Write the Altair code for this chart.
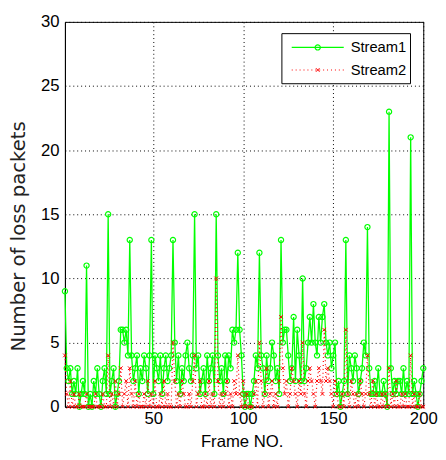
import altair as alt
import pandas as pd

frames = list(range(1, 201))

stream1 = [
    9, 3, 2, 3, 1, 2, 1, 3, 0, 1, 2, 1,
    11, 0, 1, 0, 2, 1, 3, 1, 0, 2, 3, 1,
    15, 1, 2, 3, 0, 1, 2, 6, 6, 5, 6, 4,
    13, 4, 2, 3, 4, 1, 3, 2, 4, 3, 1, 4,
    13, 1, 4, 3, 2, 4, 1, 3, 4, 2, 3, 4,
    13, 5, 2, 4, 1, 3, 2, 4, 5, 3, 2, 4,
    15, 3, 4, 1, 2, 3, 1, 4, 2, 3, 4, 1,
    15, 4, 2, 3, 1, 4, 2, 4, 3, 6, 5, 6,
    12, 6, 4, 1, 0, 1, 1, 0, 1, 2, 4, 3,
    12, 4, 3, 1, 4, 2, 3, 5, 4, 2, 3, 1,
    13, 5, 6, 6, 4, 2, 3, 7, 2, 6, 4, 2,
    10, 2, 3, 5, 7, 5, 8, 5, 4, 7, 5, 7,
    8, 5, 4, 5, 3, 4, 5, 1, 2, 0, 1, 2,
    13, 1, 4, 3, 2, 4, 3, 1, 2, 3, 5, 4,
    14, 3, 1, 1, 2, 1, 3, 1, 1, 2, 1, 0,
    23, 3, 1, 2, 1, 2, 2, 1, 3, 1, 2, 1,
    21, 1, 2, 1, 0, 1, 2, 3,
]

stream2 = [
    4, 1, 0, 2, 0, 1, 0, 0, 1, 0, 0, 0,
    1, 0, 0, 0, 0, 1, 0, 0, 0, 1, 0, 0,
    4, 0, 1, 0, 2, 0, 1, 3, 0, 1, 2, 0,
    3, 1, 0, 2, 0, 1, 0, 0, 1, 0, 2, 0,
    1, 0, 2, 0, 0, 1, 0, 2, 0, 1, 0, 0,
    5, 2, 0, 1, 0, 2, 1, 0, 0, 1, 0, 2,
    4, 0, 1, 2, 0, 0, 1, 0, 2, 0, 1, 0,
    10, 2, 0, 1, 0, 1, 2, 0, 1, 0, 2, 1,
    4, 1, 0, 2, 0, 1, 0, 0, 0, 1, 2, 0,
    5, 2, 0, 1, 3, 0, 1, 2, 0, 1, 0, 2,
    7, 3, 1, 2, 0, 1, 3, 2, 1, 0, 2, 1,
    5, 1, 0, 2, 3, 2, 1, 0, 2, 3, 2, 1,
    6, 2, 3, 2, 1, 0, 2, 1, 0, 0, 1, 0,
    6, 1, 0, 2, 1, 0, 1, 0, 2, 1, 0, 1,
    4, 1, 0, 2, 0, 1, 0, 0, 1, 0, 1, 0,
    3, 0, 1, 0, 2, 0, 0, 1, 0, 1, 0, 0,
    4, 0, 1, 0, 0, 1, 0, 0,
]

series_names = ["Stream1", "Stream2"]
x_ticks = [50, 100, 150, 200]
y_ticks = [0, 5, 10, 15, 20, 25, 30]

GREEN = "#00ff00"
RED = "#ff0000"
FONT = "Liberation Sans"
X_SHAPE = "M-1,-1L1,1M-1,1L1,-1"

df1 = pd.DataFrame({"frame": frames, "value": stream1})
df2 = pd.DataFrame({"frame": frames, "value": stream2})

xenc = alt.X(
    "frame:Q",
    scale=alt.Scale(domain=[1, 200], nice=False, zero=False),
    axis=alt.Axis(
        values=x_ticks, title="Frame NO.", grid=True, gridDash=[1, 3],
        gridColor="#000000", gridOpacity=1, domainColor="#000000",
        tickSize=0, labelPadding=4, labelFlush=False, labelFontSize=17,
        labelFont=FONT, labelColor="#000000", titleFont=FONT, titleFontSize=17,
        titleFontWeight="normal", titleColor="#000000", titleX=180, titleY=41,
        titleBaseline="alphabetic",
    ),
)
yenc = alt.Y(
    "value:Q",
    scale=alt.Scale(domain=[0, 30], nice=False),
    axis=alt.Axis(
        values=y_ticks, title="Number of loss packets", grid=True, gridDash=[1, 3],
        gridColor="#000000", gridOpacity=1, domainColor="#000000",
        tickSize=0, labelPadding=6, labelFontSize=17, labelFont=FONT,
        labelColor="#000000", titleFont="DejaVu Sans", titleFontSize=20,
        titleFontWeight="normal", titleColor="#222222", titleX=-41, titleY=218,
        titleAngle=270, titleBaseline="alphabetic", titleAlign="center",
    ),
)

s1_line = alt.Chart(df1).mark_line(color=GREEN, strokeWidth=1.3).encode(x=xenc, y=yenc)
s1_pts = alt.Chart(df1).mark_point(shape="circle", filled=False, color=GREEN,
                                    size=28, strokeWidth=1.2, opacity=1).encode(x=xenc, y=yenc)
s2_line = alt.Chart(df2).mark_line(color=RED, strokeWidth=1.2, strokeDash=[1, 3]).encode(x=xenc, y=yenc)
s2_pts = alt.Chart(df2).mark_point(shape=X_SHAPE, filled=False, color=RED,
                                    size=14, strokeWidth=1, opacity=1).encode(x=xenc, y=yenc)

one = pd.DataFrame({"k": [0]})
leg_box = alt.Chart(one).mark_rect(fill="white", stroke="black", strokeWidth=1).encode(
    x=alt.value(221), x2=alt.value(352), y=alt.value(12), y2=alt.value(63))
leg_l1 = alt.Chart(one).mark_rule(color=GREEN, strokeWidth=1.3).encode(
    x=alt.value(231), x2=alt.value(284), y=alt.value(26))
leg_p1 = alt.Chart(one).mark_point(shape="circle", filled=False, color=GREEN, size=28,
                                   strokeWidth=1.2, opacity=1).encode(x=alt.value(257.5), y=alt.value(26))
leg_l2 = alt.Chart(one).mark_rule(color=RED, strokeWidth=1.2, strokeDash=[1, 3]).encode(
    x=alt.value(231), x2=alt.value(284), y=alt.value(49))
leg_p2 = alt.Chart(one).mark_point(shape=X_SHAPE, filled=False, color=RED, size=14,
                                   strokeWidth=1, opacity=1).encode(x=alt.value(257.5), y=alt.value(49))
leg_t1 = alt.Chart(pd.DataFrame({"label": [series_names[0]]})).mark_text(
    align="left", baseline="middle", font=FONT, fontSize=15, color="black").encode(
    x=alt.value(291), y=alt.value(26), text="label:N")
leg_t2 = alt.Chart(pd.DataFrame({"label": [series_names[1]]})).mark_text(
    align="left", baseline="middle", font=FONT, fontSize=15, color="black").encode(
    x=alt.value(291), y=alt.value(49), text="label:N")

chart = alt.layer(
    s1_line, s1_pts, s2_line, s2_pts,
    leg_box, leg_l1, leg_p1, leg_l2, leg_p2, leg_t1, leg_t2,
).properties(
    width=365, height=392,
    padding={"left": 58, "top": 10, "right": 15, "bottom": 42},
    autosize=alt.AutoSizeParams(type="none"),
).configure_view(stroke="black", strokeWidth=1)

chart.save("out.html", embed_options={"renderer": "svg", "actions": False})
